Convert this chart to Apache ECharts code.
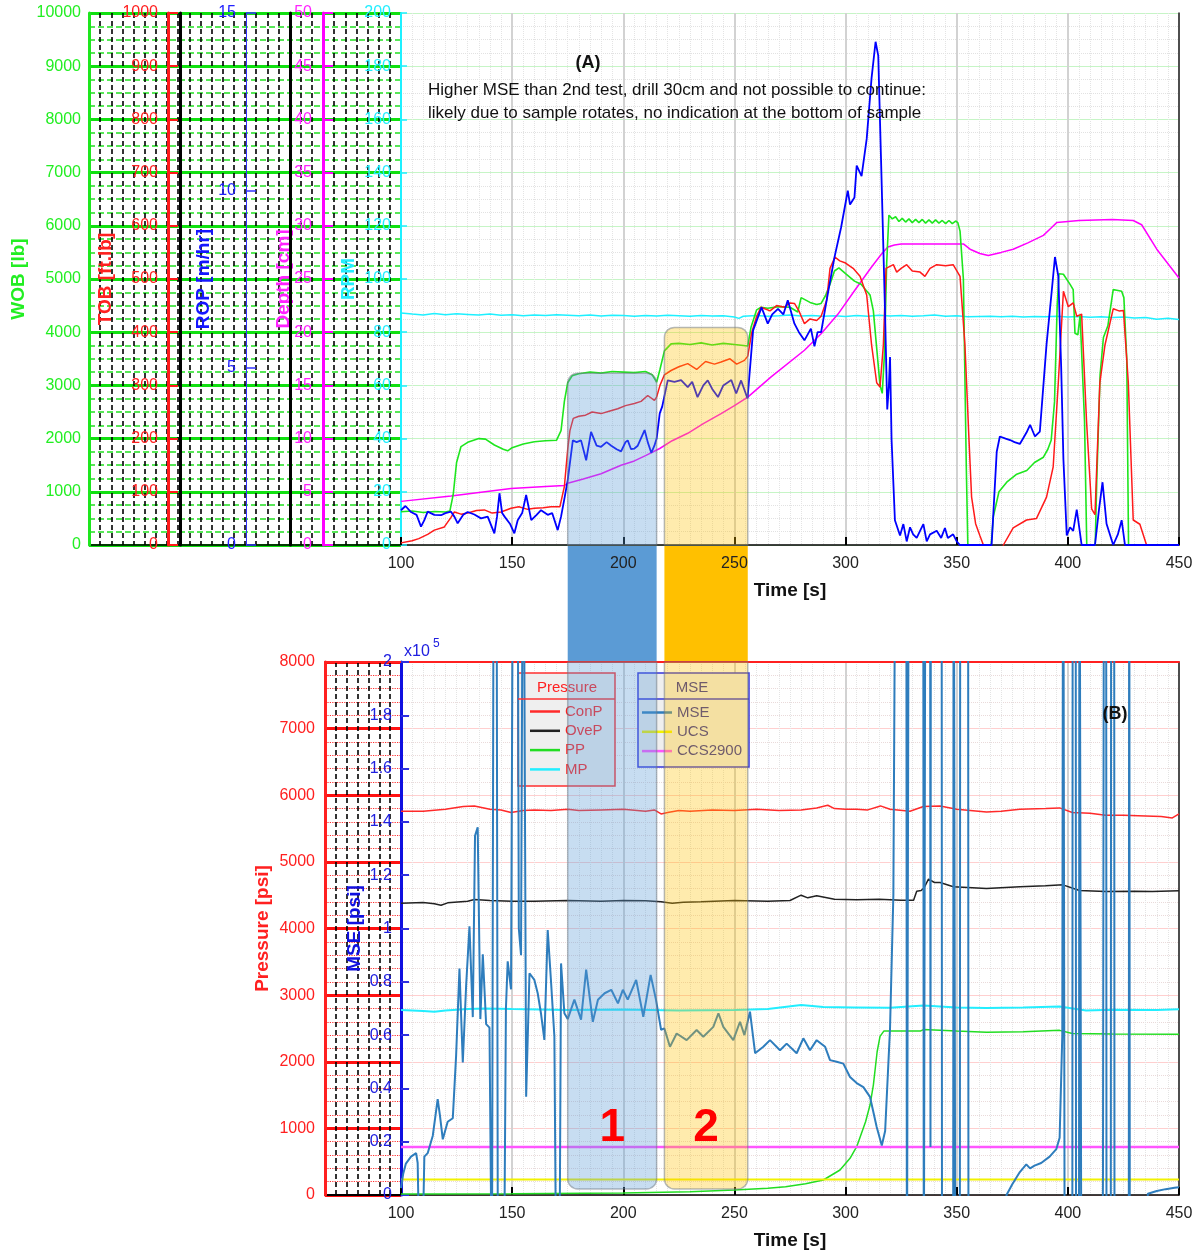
<!DOCTYPE html>
<html><head><meta charset="utf-8">
<script src="https://cdn.jsdelivr.net/npm/echarts@6/dist/echarts.min.js"></script>
<style>html,body{margin:0;padding:0;background:#fff}#c{width:1201px;height:1256px}</style>
</head><body><div id="c"></div><script>
const FONT = 'Liberation Sans, Arial, Helvetica, sans-serif';

// ---------- Panel (A) data : [time s, value] ----------
const wob = [[100,625],[105,640],[110,610],[115,630],[120,620],[122,640],[123.5,950],[125,1550],[127,1850],[130,1930],[135,2000],[138,1990],[142,1880],[146,1800],[148,1770],[150,1830],[155,1900],[160,1940],[165,1960],[170,1970],[172,2150],[173.5,2700],[175,3050],[177,3180],[180,3220],[185,3250],[190,3230],[195,3260],[200,3250],[205,3240],[210,3260],[213,3200],[215,3060],[216.5,3300],[218.5,3650],[221.5,3780],[225,3790],[230,3770],[235,3800],[240,3760],[245,3790],[250,3770],[254,3750],[256,3740],[257.5,4100],[260,4420],[262,4470],[265,4450],[270,4480],[275,4470],[278.5,4380],[280,4650],[284,4560],[287,4520],[289,4540],[291,4690],[293,4900],[295,5150],[297,5210],[300,5100],[304,4960],[307,4900],[309,4800],[311,4700],[312.5,4400],[314,3700],[315.5,3000],[316.5,2850],[317.5,3600],[318.5,5300],[319.5,6200],[321,6130],[322.5,6170],[324,6080],[325.5,6140],[327,6070],[328.5,6130],[330,6060],[331.5,6120],[333,6060],[334.5,6120],[336,6050],[337.5,6110],[339,6050],[340.5,6110],[342,6050],[343.5,6100],[345,6040],[346.5,6100],[348,6040],[349.5,6090],[350.5,6060],[351.5,5900],[353,5000],[354.3,1500],[355,0],[365.5,0],[366.5,540],[369,1000],[372.5,1180],[377,1330],[381.5,1400],[385,1550],[389,1650],[391,1800],[392.5,1970],[394,2690],[395.2,4500],[396,5100],[398,5090],[401,4900],[402.4,4800],[403.2,3980],[404.5,3950],[405.5,4320],[406.3,4300],[407.5,2330],[408.5,0],[412.3,0],[413,1200],[414.5,3200],[416,3900],[418,4120],[420.4,4800],[422,4790],[424.2,4770],[425.2,4650],[426.5,3500],[427.3,0],[450,0]];
const tob = [[100,4],[105,8],[108,12],[112,20],[115,28],[119.5,34],[122.5,52],[124,62],[127,58],[130,60],[134,65],[137.5,66],[141,60],[145,62],[149.5,69],[153,72],[157,67],[160,69],[164,70],[167.5,72],[171.5,72],[173.5,110],[175,180],[176,215],[177.5,238],[180,242],[183,244],[186,250],[190,247],[194,252],[197.5,256],[201,262],[205,266],[208,270],[211,281],[214,272],[215,278],[216.5,300],[218.5,320],[221.5,328],[225,335],[229,341],[233,330],[237,345],[241,340],[244,344],[248,350],[251,340],[254.5,347],[256,355],[257.7,398],[260,430],[262,447],[266,440],[269,450],[272.5,447],[275,455],[277,454],[279,440],[281.5,416],[284,425],[287,422],[289,430],[291.5,460],[293,520],[295.2,541],[297.4,534],[300,530],[303.4,520],[306.5,505],[309.5,470],[311.7,376],[314,305],[315.5,297],[317,376],[318.2,520],[321.5,527],[323,513],[325,520],[327.5,527],[330,515],[333.5,513],[335.7,505],[338,520],[341,527],[345,525],[348.4,527],[351.5,505],[353.7,376],[355.5,200],[356.7,90],[358.5,40],[360.4,18],[362,0],[363,-30],[370,-30],[371,0],[375.4,32],[381.4,47],[385.9,50],[390.4,90],[393.4,147],[395.7,305],[398,477],[400.2,448],[402.4,455],[404,430],[406.2,434],[408.4,233],[410.7,68],[412.2,57],[414.4,305],[416.7,376],[420.4,444],[423,440],[425,441],[427.2,305],[429.4,47],[432.4,39],[435.4,0],[436.5,-30],[450,-30]];
const rop = [[100,0.98],[102,1.1],[104.5,0.93],[107,0.85],[109,0.52],[110.5,0.7],[112,0.94],[115,0.85],[118,0.84],[120,0.9],[122.5,0.94],[124,0.8],[125.5,0.61],[128,0.85],[130,0.93],[133,0.86],[136,0.75],[139,0.8],[142,0.33],[143.2,0.8],[144.3,1.46],[145.5,0.9],[146.6,0.8],[149,0.6],[151,0.33],[152.5,0.7],[154.5,0.9],[156.3,1.41],[158.6,0.7],[161,0.85],[163,0.98],[166,0.85],[168,0.9],[170.5,0.42],[172,0.8],[173.5,1.3],[175,1.83],[177.3,2.95],[179,2.9],[181,2.95],[183.3,2.39],[185.5,3.19],[188,2.8],[190,2.77],[192.5,2.9],[194.6,2.8],[197,2.7],[199,2.64],[201,2.9],[202,2.95],[203.5,2.7],[205,2.72],[206.5,2.8],[209.6,3.24],[211,2.9],[212.6,2.6],[214,2.8],[215,3.0],[216.4,3.71],[217.5,3.9],[220,4.64],[223,4.6],[226,4.65],[229,4.45],[231,4.6],[233.4,4.17],[236,4.5],[238,4.64],[240,4.4],[242.6,4.17],[245,4.5],[248.6,4.65],[250.8,4.27],[253,4.64],[255.9,4.13],[258.4,6.05],[262.2,6.7],[265,6.24],[267,6.5],[269.6,6.66],[272,6.5],[274,6.9],[277,6.24],[279,6.0],[281.5,5.77],[284.4,6.1],[286,5.6],[287.4,6.0],[289,6.0],[292,7.08],[295,8.11],[298,8.96],[301,9.99],[302,9.6],[304,9.8],[305,10.7],[307.2,10.4],[309.5,11.45],[311.7,13.17],[313.5,14.19],[314.7,13.8],[315.9,11.0],[317.7,6.7],[318.75,3.82],[319.5,4.5],[320,5.3],[320.7,2.96],[322.2,0.7],[324.5,0.27],[326,0.59],[327.5,0.1],[329,0.5],[330.4,0.3],[332,0.2],[333.5,0.4],[335,0.59],[336.5,0.1],[338,0.3],[341,0.4],[343,0.2],[344.7,0.48],[346,0.2],[348.4,0.3],[350,0.1],[351.4,0],[365.7,0],[368,2.63],[369.4,3.06],[372,3.0],[374,2.96],[376,2.9],[378.4,2.85],[381.4,3.17],[383,3.39],[385.2,3.06],[387.4,3.2],[390.4,5.65],[392.5,7.0],[394.2,8.12],[395.7,7.58],[397,5.0],[398,2.42],[399.5,0.27],[401,0.5],[402.4,0.4],[404,1.0],[406.2,0],[412.2,0],[414,1.0],[415.6,1.77],[417.4,0.6],[420.4,0],[422.5,0.3],[424.2,0.7],[425.7,0],[450,0]];
const depth = [[100,4.1],[122.5,4.6],[149.5,5.3],[165,5.5],[173.5,5.6],[175,5.8],[182,6.2],[190,6.7],[199,7.5],[205,7.9],[210,8.4],[216.4,9.07],[222,9.8],[229,10.5],[236,11.4],[244,12.35],[250,13.1],[256,13.9],[266.5,15.8],[281.5,18.3],[289,19.86],[296.6,21.7],[304,23.9],[311.6,26.1],[316,27.3],[319,28.0],[322,28.2],[325,28.3],[340,28.3],[353,28.3],[356,27.8],[360.4,27.4],[364.2,27.2],[370,27.5],[375.4,27.8],[382,28.4],[389,29.1],[392,29.7],[395,30.3],[405,30.5],[420,30.6],[429.4,30.5],[433.2,30.1],[440,27.8],[450,25.1]];
const rpm = [[100,87.2],[105,86.8],[110,86.5],[115,87.0],[120,86.6],[125,86.9],[130,86.7],[135,86.5],[140,86.8],[145,86.4],[150,86.6],[155,86.2],[160,86.5],[165,86.3],[170,86.6],[175,86.4],[180,86.2],[185,86.5],[190,86.1],[195,86.4],[200,86.3],[205,86.0],[210,86.3],[215,86.1],[220,86.4],[225,86.2],[230,86.0],[235,86.3],[240,86.1],[245,86.2],[250,85.7],[252,85.2],[254,86.0],[260,86.3],[265,86.0],[270,86.2],[275,86.5],[280,86.1],[285,86.3],[290,86.0],[295,86.2],[300,85.9],[305,86.3],[310,86.0],[315,86.4],[320,86.1],[325,86.3],[330,86.0],[335,86.2],[340,86.5],[345,86.0],[350,86.2],[355,85.8],[360,85.9],[365,86.0],[370,85.8],[375,86.0],[380,85.7],[385,85.9],[390,85.8],[395,86.0],[400,85.7],[405,85.9],[410,85.6],[415,85.8],[420,85.5],[425,85.7],[430,85.3],[435,85.5],[440,84.9],[445,85.2],[450,84.8]];

// ---------- Panel (B) data ----------
const conP = [[100,5760],[110,5760],[120,5790],[128,5830],[133,5840],[140,5790],[145,5780],[149.5,5740],[155,5770],[160,5780],[167.5,5770],[175,5790],[180,5770],[190,5780],[200,5790],[210,5760],[214,5780],[217,5720],[220,5740],[225,5770],[230,5760],[240,5780],[250,5770],[260,5790],[270,5770],[280,5780],[287,5810],[292,5850],[295,5800],[300,5790],[305,5790],[310,5780],[315.7,5840],[320,5790],[329,5760],[335,5830],[342.5,5840],[350,5790],[363.4,5750],[370,5760],[378.4,5790],[390,5800],[396.3,5810],[402,5740],[410,5730],[417,5700],[425,5700],[435,5690],[442,5680],[447,5660],[450,5720]];
const oveP = [[100,4380],[110,4390],[115,4370],[118,4350],[121,4385],[130,4410],[133,4435],[140,4420],[150,4410],[160,4410],[175,4420],[190,4410],[200,4420],[210,4415],[217,4400],[222,4380],[227,4395],[235,4400],[250,4420],[265,4410],[275,4420],[280,4500],[283,4460],[287,4490],[295,4440],[305,4430],[315,4440],[325,4425],[330.6,4425],[332,4560],[334,4570],[335.3,4610],[337.3,4740],[340,4690],[342.5,4690],[348.5,4626],[363.4,4600],[378.4,4626],[390,4640],[397.8,4655],[405.2,4570],[417,4557],[430,4560],[438,4555],[450,4565]];
const pp = [[100,15],[150,20],[200,30],[230,50],[250,75],[265,100],[273,125],[282,170],[290,225],[297.5,375],[302,550],[305,725],[309,1100],[311,1350],[312.5,1650],[314.2,2150],[315.5,2380],[317.2,2460],[320,2460],[333.6,2460],[335,2483],[350,2460],[363.4,2443],[380,2450],[396.3,2471],[402,2425],[420,2415],[450,2414]];
const mp = [[100,2777],[110,2760],[115,2750],[120,2770],[130,2790],[137.5,2800],[150,2790],[175,2777],[200,2785],[225,2770],[250,2777],[265,2790],[280,2852],[290,2820],[303.7,2816],[320,2810],[335,2845],[350,2815],[363.4,2805],[380,2815],[396.3,2828],[408.2,2770],[420,2780],[440,2775],[450,2787]];
const mse = [[100,2600],[101,8000],[102.2,11800],[104.5,14400],[106.8,15700],[107.5,12000],[108.2,-20000],[109.7,-20000],[110.5,14400],[112,15700],[114.3,22250],[116.5,36000],[117.5,30000],[118.8,20900],[121,27500],[123.3,28800],[124.8,52400],[126.3,85000],[127.8,49700],[129.3,78500],[130.8,100800],[132.3,66750],[133.3,134800],[134.5,138000],[135.7,66000],[136.8,90300],[138.3,64100],[139.8,62800],[140.9,-40000],[141.8,300000],[142.9,300000],[143.6,-40000],[146.3,-40000],[147.2,70000],[148,87700],[149.5,77200],[150.6,300000],[152.3,300000],[153,100000],[154,90000],[155,300000],[155.6,300000],[156.3,36900],[157.8,83200],[160,80700],[161.5,75700],[163,68000],[164.5,58200],[166,99400],[167.5,80000],[169,59500],[169.8,-30000],[171.3,-30000],[172,86900],[173.5,68200],[175,66000],[178,73300],[181,65800],[183.3,84600],[186.3,65000],[188.6,73300],[191.6,75700],[194.6,77000],[197.6,71900],[199.8,77000],[202,73300],[205.8,80700],[209,66900],[212.3,82600],[214.7,73300],[217,62000],[218.5,62500],[221,55600],[224,60600],[228.5,58100],[233,61900],[236,59400],[240.5,63100],[242.8,68200],[245,63100],[249.5,58100],[252.5,65000],[254.5,60000],[257,68800],[259.3,53200],[263,55600],[266,58100],[270.5,54300],[273.5,56800],[278,53200],[281,58800],[284,54300],[287,58100],[290.8,55600],[293,50600],[296,50000],[299,49300],[302,44300],[305,42000],[308,40500],[311,36800],[314,25500],[316.3,18600],[317.8,24000],[320,62500],[321.5,112500],[322.7,300000],[327.3,300000],[327.6,-50000],[328.2,-50000],[328.5,300000],[334.9,300000],[335.2,-50000],[335.8,-50000],[336,300000],[338,300000],[338.2,18000],[338.4,300000],[343.2,300000],[343.4,-50000],[348.4,-50000],[348.6,300000],[349.2,300000],[349.4,-50000],[351.4,-50000],[351.6,300000],[355.1,300000],[355.3,-50000],[372,-50000],[372.4,0],[375,4000],[378.4,8600],[381.3,11500],[383,10000],[385,11000],[388,12000],[391.8,14400],[394.8,17200],[396.3,21500],[397.5,60000],[397.9,300000],[398.4,300000],[398.6,-50000],[402,-50000],[402.2,300000],[403.5,300000],[403.7,-50000],[405,-50000],[405.2,300000],[405.9,300000],[406.1,-50000],[415.5,-50000],[415.8,8000],[416.3,300000],[417.2,300000],[417.4,-50000],[419.3,-50000],[419.5,300000],[420.8,300000],[421,-50000],[427.4,-50000],[427.6,300000],[427.9,-50000],[433,-50000],[436,500],[440,1500],[444,2200],[448,2700],[450,2900]];
const ucs = [[100,5800],[450,5800]];
const ccs2900 = [[100,18000],[450,18000]];

// highlighted test windows (time s) and top of the box in panel A (WOB lb)
const boxStart = [175, 218.5];
const boxEnd = [215, 256];
const boxTopWob = [3230, 4090];
const boxLabels = ['1', '2'];

const C = {wob:'#1ee61e', tob:'#ff1a1a', rop:'#0000ff', dep:'#ff00ff', rpm:'#1ef0ff',
  conp:'#ff2a2a', ovep:'#222222', pp:'#22dd22', mp:'#22eeff', mse:'#2e7dbd', ucs:'#f2f200', ccs:'#ff55ff'};

const plain = v => String(v);
function sideAxis(o){
  return Object.assign({type:'value', position:'left', splitLine:{show:false}, minorTick:{show:false},
    nameLocation:'middle', nameRotate:90, nameMoveOverlap:false}, o);
}
function line(name, data, color, xi, yi, w){
  return {name, type:'line', data, xAxisIndex:xi, yAxisIndex:yi, symbol:'none', showSymbol:false,
    lineStyle:{color, width:w||1.5}, itemStyle:{color}, animation:false, clip:true};
}
const timeAxisBase = {type:'value', min:100, max:450, interval:50,
  axisLine:{onZero:false, lineStyle:{color:'#000', width:1.5}},
  axisTick:{inside:true, length:8, lineStyle:{color:'#000', width:2}},
  axisLabel:{color:'#222', fontFamily:FONT, fontSize:16, margin:11},
  splitLine:{show:true, lineStyle:{color:'#d2d2d2', width:2}},
  minorTick:{show:false, splitNumber:10},
  minorSplitLine:{show:true, lineStyle:{color:'#e4e4e4', type:'dotted', width:1}},
  name:'Time [s]', nameLocation:'middle', nameGap:36, nameMoveOverlap:false,
  nameTextStyle:{color:'#111', fontFamily:FONT, fontSize:19, fontWeight:'bold'}};
const nameStyle = c => ({color:c, fontFamily:FONT, fontSize:19, fontWeight:'bold'});
const lab = (c, m) => ({color:c, fontFamily:FONT, fontSize:16, margin:m, formatter:plain});

const option = {
  backgroundColor:'#fff',
  animation:false,
  textStyle:{fontFamily:FONT},
  grid:[
    {left:401, top:13, width:778, height:532, outerBoundsMode:'none'},
    {left:401, top:662, width:778, height:533, outerBoundsMode:'none'},
    {left:89, top:13, width:312, height:532, outerBoundsMode:'none'},
    {left:325, top:662, width:76, height:533, outerBoundsMode:'none'}
  ],
  xAxis:[
    Object.assign({}, timeAxisBase, {gridIndex:0}),
    Object.assign({}, timeAxisBase, {gridIndex:1}),
    {type:'value', gridIndex:1, position:'top', min:100, max:450, axisLine:{onZero:false, lineStyle:{color:'#ff2020', width:2}},
      axisTick:{show:false}, axisLabel:{show:false}, splitLine:{show:false}},
    {type:'value', gridIndex:2, min:0, max:28, interval:1, z:-2, axisLine:{onZero:false, lineStyle:{color:'#000', width:1.5}},
      axisTick:{show:false}, axisLabel:{show:false},
      splitLine:{show:true, lineStyle:{color:'#000', width:1.6, type:[5,3]}}},
    {type:'value', gridIndex:3, min:0, max:7, interval:1, z:-2, axisLine:{onZero:false, lineStyle:{color:'#000', width:2}},
      axisTick:{show:false}, axisLabel:{show:false},
      splitLine:{show:true, lineStyle:{color:'#000', width:1.6, type:[5,3]}}},
    {type:'value', gridIndex:3, position:'top', min:0, max:7, axisLine:{onZero:false, lineStyle:{color:'#ff2020', width:2}},
      axisTick:{show:false}, axisLabel:{show:false}, splitLine:{show:false}}
  ],
  yAxis:[
    sideAxis({gridIndex:0, offset:312, min:0, max:10000, interval:1000,
      axisLine:{show:true, onZero:false, lineStyle:{color:C.wob, width:3}}, axisTick:{show:false},
      axisLabel:lab('#22ee22', 8),
      splitLine:{show:true, lineStyle:{color:'#c6f5c6', width:1.2}},
      minorTick:{show:false, splitNumber:4},
      minorSplitLine:{show:true, lineStyle:{color:'#e2e2e2', type:'dotted'}},
      name:'WOB [lb]', nameGap:61, nameTextStyle:nameStyle('#22ee22')}),
    sideAxis({gridIndex:0, offset:233, min:0, max:1000, interval:100,
      axisLine:{show:true, onZero:false, lineStyle:{color:C.tob, width:3}},
      axisTick:{show:true, inside:true, length:10, lineStyle:{color:C.tob, width:2}},
      axisLabel:lab('#ff2020', 10),
      name:'TOB [ft.lb]', nameGap:53, nameTextStyle:nameStyle('#ff2020')}),
    sideAxis({gridIndex:0, offset:155, min:0, max:15, interval:5,
      axisLine:{show:true, onZero:false, lineStyle:{color:'#3333ff', width:1}},
      axisTick:{show:true, inside:true, length:10, lineStyle:{color:'#3333ff', width:1.5}},
      axisLabel:lab('#2222ff', 10),
      name:'ROP [m/hr]', nameGap:33, nameTextStyle:nameStyle('#1515ff')}),
    sideAxis({gridIndex:0, offset:78, min:0, max:50, interval:5,
      axisLine:{show:true, onZero:false, lineStyle:{color:C.dep, width:3}},
      axisTick:{show:true, inside:true, length:10, lineStyle:{color:C.dep, width:2}},
      axisLabel:lab('#ff22ff', 11),
      name:'Depth [cm]', nameGap:30, nameTextStyle:nameStyle('#ff22ff')}),
    sideAxis({gridIndex:0, offset:0, min:0, max:200, interval:20,
      axisLine:{show:true, onZero:false, lineStyle:{color:C.rpm, width:2}},
      axisTick:{show:true, inside:true, length:6, lineStyle:{color:C.rpm, width:1.5}},
      axisLabel:lab('#22eeff', 10),
      name:'RPM', nameGap:43, nameTextStyle:nameStyle('#22eeff')}),
    {type:'value', gridIndex:0, position:'left', offset:221, min:0, max:1, axisLine:{show:true, onZero:false, lineStyle:{color:'#000', width:3}},
      axisTick:{show:false}, axisLabel:{show:false}, splitLine:{show:false}},
    {type:'value', gridIndex:0, position:'left', offset:111, min:0, max:1, axisLine:{show:true, onZero:false, lineStyle:{color:'#000', width:3}},
      axisTick:{show:false}, axisLabel:{show:false}, splitLine:{show:false}},
    {type:'value', gridIndex:0, position:'right', min:0, max:1, axisLine:{show:true, onZero:false, lineStyle:{color:'#222', width:1.5}},
      axisTick:{show:false}, axisLabel:{show:false}, splitLine:{show:false}},
    sideAxis({gridIndex:1, offset:76, min:0, max:8000, interval:1000,
      axisLine:{show:true, onZero:false, lineStyle:{color:'#ff2020', width:3}}, axisTick:{show:false},
      axisLabel:lab('#ff2020', 10),
      splitLine:{show:true, lineStyle:{color:'#ffcfcf', width:1.2}},
      minorTick:{show:false, splitNumber:5},
      minorSplitLine:{show:true, lineStyle:{color:'#eadada', type:'dotted'}},
      name:'Pressure [psi]', nameGap:53, nameTextStyle:nameStyle('#ff2020')}),
    sideAxis({gridIndex:1, offset:0, min:0, max:200000, interval:20000,
      axisLine:{show:true, onZero:false, lineStyle:{color:'#1010e0', width:3}},
      axisTick:{show:true, inside:true, length:8, lineStyle:{color:'#3030e0', width:2}},
      axisLabel:{color:'#2020e0', fontFamily:FONT, fontSize:16, margin:9,
        formatter:v => String(Number((v/1e5).toFixed(1)))},
      name:'MSE [psi]', nameGap:37, nameTextStyle:nameStyle('#1010e0')}),
    {type:'value', gridIndex:1, position:'right', min:0, max:1, axisLine:{show:true, onZero:false, lineStyle:{color:'#222', width:1.5}},
      axisTick:{show:false}, axisLabel:{show:false}, splitLine:{show:false}},
    {type:'value', gridIndex:2, min:0, max:10000, interval:1000, z:-2, axisLine:{show:false}, axisTick:{show:false}, axisLabel:{show:false},
      splitLine:{show:true, lineStyle:{color:'#10e010', width:3}},
      minorTick:{show:false, splitNumber:4},
      minorSplitLine:{show:true, lineStyle:{color:'#20e020', width:1.5, type:[6,3]}}},
    {type:'value', gridIndex:3, min:0, max:8000, interval:1000, z:-2, axisLine:{show:false}, axisTick:{show:false}, axisLabel:{show:false},
      splitLine:{show:true, lineStyle:{color:'#ff1010', width:3}},
      minorTick:{show:false, splitNumber:5},
      minorSplitLine:{show:true, lineStyle:{color:'#ff3030', width:1.2, type:'dotted'}}}
  ],
  legend:[
    {data:['ConP','OveP','PP','MP'], left:530, top:704, orient:'vertical', icon:'rect', itemWidth:30, itemHeight:2.5, itemGap:4.3,
      selectedMode:false, padding:0, z:5, textStyle:{color:'#ff2020', fontFamily:FONT, fontSize:15}},
    {data:['MSE','UCS','CCS2900'], left:642, top:705, orient:'vertical', icon:'rect', itemWidth:30, itemHeight:2.5, itemGap:4.3,
      selectedMode:false, padding:0, z:5, textStyle:{color:'#2b2b9e', fontFamily:FONT, fontSize:15}}
  ],
  series:[
    line('RPM', rpm, C.rpm, 0, 4, 1.5),
    line('Depth', depth, C.dep, 0, 3, 1.5),
    line('WOB', wob, C.wob, 0, 0, 1.6),
    line('TOB', tob, C.tob, 0, 1, 1.5),
    line('ROP', rop, C.rop, 0, 2, 1.8),
    line('ConP', conP, C.conp, 1, 8, 1.5),
    line('OveP', oveP, C.ovep, 1, 8, 1.5),
    line('PP', pp, C.pp, 1, 8, 1.5),
    line('MP', mp, C.mp, 1, 8, 2),
    line('UCS', ucs, C.ucs, 1, 9, 2),
    line('CCS2900', ccs2900, C.ccs, 1, 9, 2.5),
    line('MSE', mse, C.mse, 1, 9, 2)
  ]
};

const chart = echarts.init(document.getElementById('c'), null, {renderer:'canvas'});
chart.setOption(option);

const px = t => chart.convertToPixel({xAxisIndex:0}, t);
const pyA = v => chart.convertToPixel({yAxisIndex:0}, v);
const pyB = v => chart.convertToPixel({yAxisIndex:8}, v);
const yA0 = pyA(0), yBtop = pyB(8000), yB0 = pyB(0);
const boxFill = ['rgba(91,155,213,0.34)', 'rgba(255,192,0,0.32)'];
const bandFill = ['#5b9bd5', '#ffc000'];
const g = [];
boxStart.forEach((s, i) => {
  const x0 = px(s), x1 = px(boxEnd[i]);
  const yt = pyA(boxTopWob[i]);
  g.push({type:'rect', z:10, shape:{x:x0, y:yt, width:x1-x0, height:yA0-yt, r:[10,10,0,0]},
    style:{fill:boxFill[i], stroke:'rgba(110,120,130,0.5)', lineWidth:1.5}});
  g.push({type:'rect', z:-1, shape:{x:x0, y:yA0+1, width:x1-x0, height:yBtop-yA0-1},
    style:{fill:bandFill[i]}});
  g.push({type:'rect', z:10, shape:{x:x0, y:yBtop, width:x1-x0, height:yB0-6-yBtop, r:[0,0,10,10]},
    style:{fill:boxFill[i], stroke:'rgba(110,120,130,0.5)', lineWidth:1.5}});
  g.push({type:'text', z:12, x:(x0+x1)/2, y:pyB(1000),
    style:{text:boxLabels[i], fill:'#ff0000', font:'bold 46px '+FONT, align:'center', verticalAlign:'middle'}});
});
// legend frames
g.push({type:'rect', z:3, shape:{x:518, y:673, width:97, height:113}, style:{fill:'#efefef', stroke:'#ff3030', lineWidth:1.5}});
g.push({type:'line', z:4, shape:{x1:518, y1:699, x2:615, y2:699}, style:{stroke:'#ff3030', lineWidth:1.5}});
g.push({type:'text', z:6, x:567, y:688, style:{text:'Pressure', fill:'#ff2020', font:'15px '+FONT, align:'center', verticalAlign:'middle'}});
g.push({type:'rect', z:3, shape:{x:638, y:673, width:111, height:94}, style:{fill:'#efefef', stroke:'#3333dd', lineWidth:1.5}});
g.push({type:'line', z:4, shape:{x1:638, y1:699, x2:749, y2:699}, style:{stroke:'#3333dd', lineWidth:1.5}});
g.push({type:'text', z:6, x:692, y:688, style:{text:'MSE', fill:'#2b2b9e', font:'15px '+FONT, align:'center', verticalAlign:'middle'}});
// annotations
g.push({type:'text', z:12, x:588, y:63, style:{text:'(A)', fill:'#111', font:'bold 18px '+FONT, align:'center', verticalAlign:'middle'}});
g.push({type:'text', z:12, x:428, y:90, style:{text:'Higher MSE than 2nd test, drill 30cm and not possible to continue:', fill:'#111', font:'17px '+FONT, verticalAlign:'middle'}});
g.push({type:'text', z:12, x:428, y:113, style:{text:'likely due to sample rotates, no indication at the bottom of sample', fill:'#111', font:'17px '+FONT, verticalAlign:'middle'}});
g.push({type:'text', z:12, x:1115, y:714, style:{text:'(B)', fill:'#111', font:'bold 18px '+FONT, align:'center', verticalAlign:'middle'}});
g.push({type:'text', z:12, x:404, y:652, style:{text:'x10', fill:'#2020e0', font:'16px '+FONT, verticalAlign:'middle'}});
g.push({type:'text', z:12, x:433, y:644, style:{text:'5', fill:'#2020e0', font:'12px '+FONT, verticalAlign:'middle'}});
chart.setOption({graphic:g});
</script></body></html>
